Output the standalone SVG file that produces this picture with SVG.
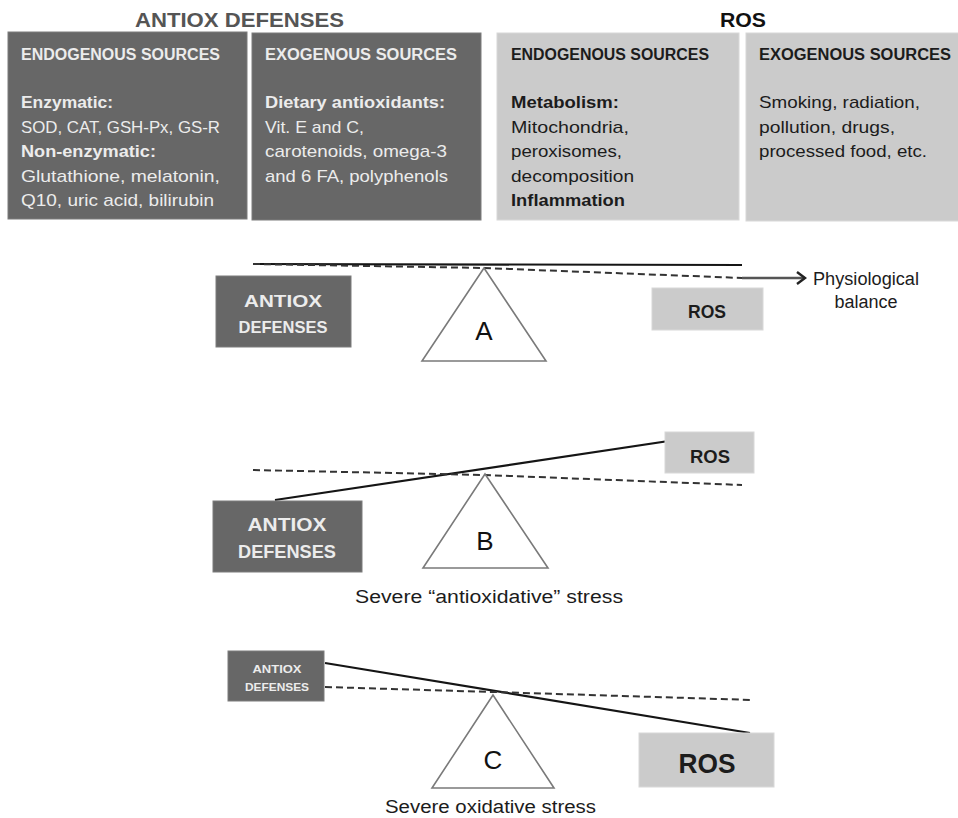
<svg xmlns="http://www.w3.org/2000/svg" width="958" height="818" viewBox="0 0 958 818">
<style>
text{font-family:"Liberation Sans",Arial,sans-serif}
.dk{fill:#676767;stroke:#7d7d7d;stroke-width:1}
.lt{fill:#cbcbcb;stroke:#d8d8d8;stroke-width:1}
.wt{fill:#ececec}
.bk{fill:#1c1c1c}
.hd{font-weight:bold;font-size:16px}
.bd{font-size:17px}
.b{font-weight:bold}
.tri{fill:#fff;stroke:#7a7a7a;stroke-width:1.6}
.beam{stroke:#151515;stroke-width:2.2;fill:none}
.dash{stroke:#333;stroke-width:2;stroke-dasharray:7 4;fill:none}
.lbl{font-size:26px;fill:#111;text-anchor:middle}
.cap{font-size:18px;fill:#1c1c1c}
</style>
<defs>
<marker id="chev" markerWidth="12" markerHeight="14" refX="9" refY="7" orient="auto" markerUnits="userSpaceOnUse">
<path d="M1,1 L9,7 L1,13" fill="none" stroke="#222" stroke-width="2.4"/>
</marker>
</defs>

<!-- Titles -->
<text x="135" y="27" font-size="21" font-weight="bold" fill="#555" textLength="209" lengthAdjust="spacingAndGlyphs">ANTIOX DEFENSES</text>
<text x="720" y="27" font-size="21" font-weight="bold" fill="#111" textLength="46" lengthAdjust="spacingAndGlyphs">ROS</text>

<!-- Top boxes -->
<g id="antiox-endogenous">
<rect class="dk" x="8" y="32" width="239" height="187"/>
<text class="wt hd" x="21" y="60" textLength="199" lengthAdjust="spacingAndGlyphs">ENDOGENOUS SOURCES</text>
<text class="wt bd b" x="21" y="108" textLength="92" lengthAdjust="spacingAndGlyphs">Enzymatic:</text>
<text class="wt bd" x="21" y="133" textLength="199" lengthAdjust="spacingAndGlyphs">SOD, CAT, GSH-Px, GS-R</text>
<text class="wt bd b" x="21" y="157" textLength="135" lengthAdjust="spacingAndGlyphs">Non-enzymatic:</text>
<text class="wt bd" x="21" y="182" textLength="199" lengthAdjust="spacingAndGlyphs">Glutathione, melatonin,</text>
<text class="wt bd" x="21" y="206" textLength="193" lengthAdjust="spacingAndGlyphs">Q10, uric acid, bilirubin</text>
</g>
<g id="antiox-exogenous">
<rect class="dk" x="252" y="33" width="229" height="187"/>
<text class="wt hd" x="265" y="60" textLength="192" lengthAdjust="spacingAndGlyphs">EXOGENOUS SOURCES</text>
<text class="wt bd b" x="265" y="108" textLength="180" lengthAdjust="spacingAndGlyphs">Dietary antioxidants:</text>
<text class="wt bd" x="265" y="133" textLength="99" lengthAdjust="spacingAndGlyphs">Vit. E and C,</text>
<text class="wt bd" x="265" y="157" textLength="182" lengthAdjust="spacingAndGlyphs">carotenoids, omega-3</text>
<text class="wt bd" x="265" y="182" textLength="183" lengthAdjust="spacingAndGlyphs">and 6 FA, polyphenols</text>
</g>
<g id="ros-endogenous">
<rect class="lt" x="497" y="33" width="242" height="187"/>
<text class="bk hd" x="511" y="60" textLength="198" lengthAdjust="spacingAndGlyphs">ENDOGENOUS SOURCES</text>
<text class="bk bd b" x="511" y="108" textLength="108" lengthAdjust="spacingAndGlyphs">Metabolism:</text>
<text class="bk bd" x="511" y="133" textLength="118" lengthAdjust="spacingAndGlyphs">Mitochondria,</text>
<text class="bk bd" x="511" y="157" textLength="111" lengthAdjust="spacingAndGlyphs">peroxisomes,</text>
<text class="bk bd" x="511" y="182" textLength="123" lengthAdjust="spacingAndGlyphs">decomposition</text>
<text class="bk bd b" x="511" y="206" textLength="114" lengthAdjust="spacingAndGlyphs">Inflammation</text>
</g>
<g id="ros-exogenous">
<rect class="lt" x="746" y="33" width="215" height="188"/>
<text class="bk hd" x="759" y="60" textLength="192" lengthAdjust="spacingAndGlyphs">EXOGENOUS SOURCES</text>
<text class="bk bd" x="759" y="108" textLength="161" lengthAdjust="spacingAndGlyphs">Smoking, radiation,</text>
<text class="bk bd" x="759" y="133" textLength="136" lengthAdjust="spacingAndGlyphs">pollution, drugs,</text>
<text class="bk bd" x="759" y="157" textLength="168" lengthAdjust="spacingAndGlyphs">processed food, etc.</text>
</g>

<!-- Connectors: beams, reference lines, arrow -->
<g id="connectors">
<line class="beam" x1="253" y1="264" x2="742" y2="265" stroke="#333"/>
<polyline class="dash" points="253,264 484,268 742,278"/>
<line x1="742" y1="278" x2="805" y2="278" stroke="#555" stroke-width="2.6" marker-end="url(#chev)"/>

<line class="beam" x1="275" y1="500" x2="722" y2="433"/>
<polyline class="dash" points="253,470 485,475 742,485"/>

<line class="beam" x1="325" y1="663" x2="750" y2="733"/>
<polyline class="dash" points="325,687 493,692 753,700"/>
</g>

<!-- Scale A -->
<g id="fulcrum-a">
<polygon class="tri" points="484,268 422,361 546,361"/>
<text class="lbl" x="484" y="340">A</text>
</g>
<g id="antiox-a">
<rect class="dk" x="216" y="276" width="135" height="71"/>
<text class="wt" x="283" y="307" font-size="17" font-weight="bold" text-anchor="middle" textLength="78" lengthAdjust="spacingAndGlyphs">ANTIOX</text>
<text class="wt" x="283" y="333" font-size="17" font-weight="bold" text-anchor="middle" textLength="89" lengthAdjust="spacingAndGlyphs">DEFENSES</text>
</g>
<g id="ros-a">
<rect class="lt" x="652" y="288" width="111" height="42"/>
<text class="bk" x="707" y="318" font-size="19" font-weight="bold" text-anchor="middle" textLength="38" lengthAdjust="spacingAndGlyphs">ROS</text>
</g>
<g id="physio-label">
<text class="cap" x="866" y="285" font-size="17" text-anchor="middle" textLength="106" lengthAdjust="spacingAndGlyphs">Physiological</text>
<text class="cap" x="866" y="308" font-size="17" text-anchor="middle">balance</text>
</g>

<!-- Scale B -->
<g id="fulcrum-b">
<polygon class="tri" points="485,474 423,568 548,568"/>
<text class="lbl" x="485" y="550">B</text>
</g>
<g id="antiox-b">
<rect class="dk" x="213" y="501" width="149" height="71"/>
<text class="wt" x="287" y="531" font-size="18" font-weight="bold" text-anchor="middle" textLength="79" lengthAdjust="spacingAndGlyphs">ANTIOX</text>
<text class="wt" x="287" y="558" font-size="18" font-weight="bold" text-anchor="middle" textLength="98" lengthAdjust="spacingAndGlyphs">DEFENSES</text>
</g>
<g id="ros-b">
<rect class="lt" x="665" y="432" width="89" height="41"/>
<text class="bk" x="710" y="463" font-size="19" font-weight="bold" text-anchor="middle" textLength="40" lengthAdjust="spacingAndGlyphs">ROS</text>
</g>
<text class="cap" x="355" y="603" textLength="268" lengthAdjust="spacingAndGlyphs">Severe “antioxidative” stress</text>

<!-- Scale C -->
<g id="fulcrum-c">
<polygon class="tri" points="493,695 432,788 554,788"/>
<text class="lbl" x="493" y="769">C</text>
</g>
<g id="antiox-c">
<rect class="dk" x="228" y="651" width="96" height="50"/>
<text class="wt" x="277" y="673" font-size="11.5" font-weight="bold" text-anchor="middle" textLength="49" lengthAdjust="spacingAndGlyphs">ANTIOX</text>
<text class="wt" x="277" y="691" font-size="11.5" font-weight="bold" text-anchor="middle" textLength="64" lengthAdjust="spacingAndGlyphs">DEFENSES</text>
</g>
<g id="ros-c">
<rect class="lt" x="639" y="733" width="135" height="54"/>
<text class="bk" x="707" y="773" font-size="28" font-weight="bold" text-anchor="middle" textLength="57" lengthAdjust="spacingAndGlyphs">ROS</text>
</g>
<text class="cap" x="385" y="813" textLength="211" lengthAdjust="spacingAndGlyphs">Severe oxidative stress</text>
</svg>
